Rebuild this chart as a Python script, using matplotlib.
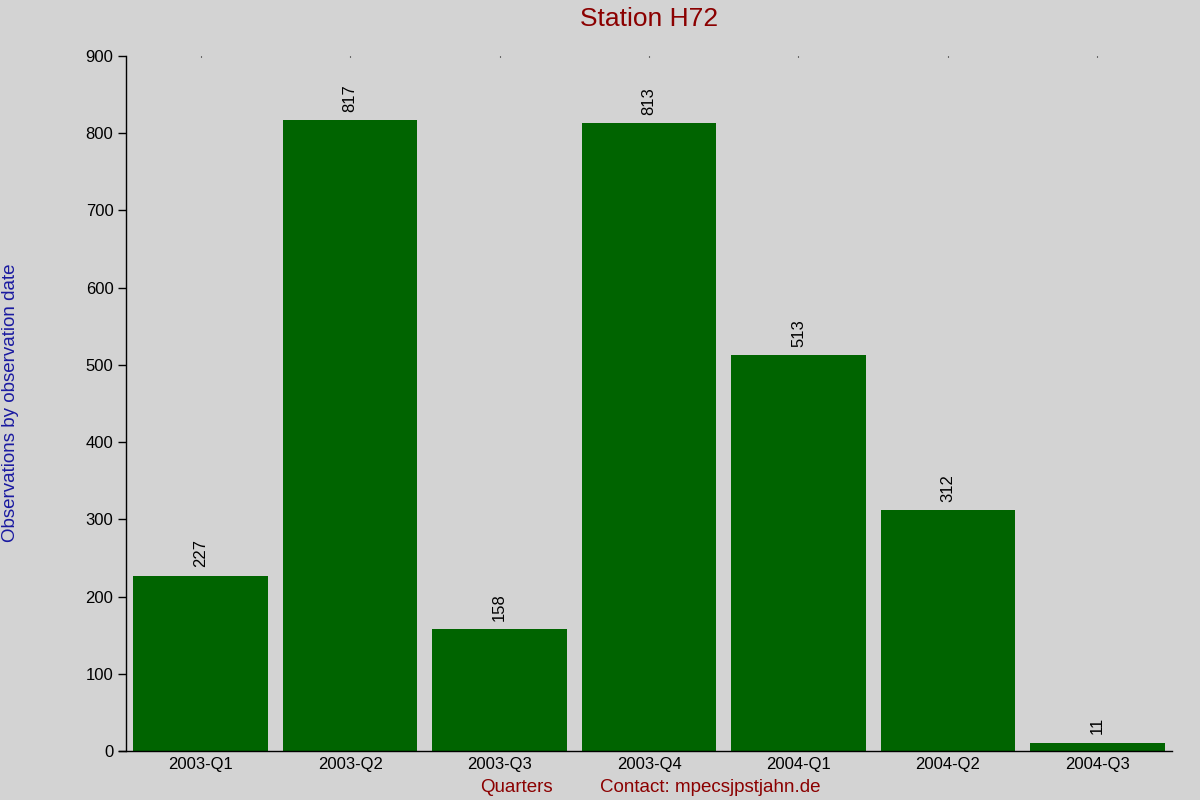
import matplotlib
matplotlib.use("Agg")
import matplotlib.pyplot as plt

categories = ["2003-Q1", "2003-Q2", "2003-Q3", "2003-Q4", "2004-Q1", "2004-Q2", "2004-Q3"]
values = [227, 817, 158, 813, 513, 312, 11]
yticks = [0, 100, 200, 300, 400, 500, 600, 700, 800, 900]

plt.rcParams['font.family'] = ['Liberation Sans', 'DejaVu Sans']
bg = '#d3d3d3'
fig = plt.figure(figsize=(12, 8), dpi=100, facecolor=bg)
ax = fig.add_axes([126/1200, 1 - 751/800, (1172-126)/1200, (751-56)/800])
ax.set_facecolor(bg)

x = list(range(len(categories)))
bars = ax.bar(x, values, width=0.9, color='#006400')
for xi, v in zip(x, values):
    ax.annotate(str(v), (xi, v), xytext=(0, 6), textcoords='offset points',
                rotation=90, ha='center', va='bottom', fontsize=12, color='black')

ax.set_xlim(-0.5, 6.5)
ax.set_ylim(0, 900)
ax.set_yticks(yticks)
ax.set_xticks(x)
ax.set_xticklabels(categories, fontsize=12)
ax.tick_params(axis='y', labelsize=12, length=6, direction='out', width=1, pad=3)
ax.tick_params(axis='x', bottom=False, top=True, length=1, width=0.8, direction='in', pad=4)
for s in ['top', 'right']:
    ax.spines[s].set_visible(False)
ax.spines['left'].set_linewidth(1)
ax.spines['bottom'].set_linewidth(1)
ax.spines['bottom'].set_bounds(-0.55, 6.5)

fig.text(649/1200, 1 - 19/800, "Station H72", ha='center', va='center', fontsize=19, color='#8b0000')
fig.text(516/1200, 1 - 787/800, "Quarters", ha='center', va='center', fontsize=13.5, color='#8b0000')
fig.text(710/1200, 1 - 787/800, "Contact: mpecsjpstjahn.de", ha='center', va='center', fontsize=13.5, color='#8b0000')
fig.text(11/1200, 1 - 403/800, "Observations by observation date", ha='center', va='center',
         rotation=90, fontsize=13.5, color='#1a1aa0')

fig.savefig("out.png", dpi=100, facecolor=bg)
